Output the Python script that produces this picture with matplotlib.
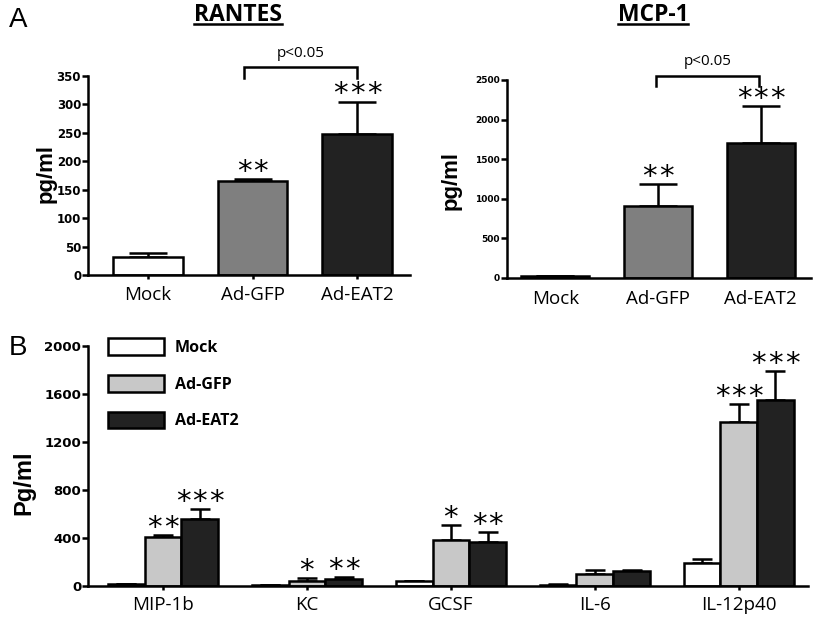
import matplotlib
matplotlib.use("Agg")
import matplotlib.pyplot as plt
import numpy as np
from matplotlib.lines import Line2D

# ---------------- data ----------------
groups_a = ["Mock", "Ad-GFP", "Ad-EAT2"]
rantes_vals = [31, 165, 248]
rantes_err = [8, 3, 57]
rantes_stars = ["", "**", "***"]

mcp1_vals = [25, 910, 1705]
mcp1_err = [5, 280, 465]
mcp1_stars = ["", "**", "***"]

cyto = ["MIP-1b", "KC", "GCSF", "IL-6", "IL-12p40"]
mock_vals = [15, 8, 40, 12, 190]
mock_err = [3, 2, 5, 5, 35]
gfp_vals = [410, 40, 385, 100, 1365]
gfp_err = [15, 25, 120, 30, 150]
eat2_vals = [555, 60, 370, 128, 1550]
eat2_err = [85, 15, 80, 8, 240]
gfp_stars = ["**", "*", "*", "", "***"]
eat2_stars = ["***", "**", "**", "", "***"]

rantes_ticks = [0, 50, 100, 150, 200, 250, 300, 350]
mcp1_ticks = [0, 500, 1000, 1500, 2000, 2500]
b_ticks = [0, 400, 800, 1200, 1600, 2000]

# ---------------- style ----------------
LW = 1.8
TICKFONT = "Open Sans"
colors_a = ["white", "#7f7f7f", "#222222"]
colors_b = ["white", "#c8c8c8", "#222222"]

fig = plt.figure(figsize=(8.16, 6.23), dpi=100)


def style_axes(ax, yticks, ytick_size, xlab_pad):
    for s in ["top", "right"]:
        ax.spines[s].set_visible(False)
    for s in ["left", "bottom"]:
        ax.spines[s].set_linewidth(LW)
    ax.set_yticks(yticks)
    ax.set_ylim(yticks[0], yticks[-1])
    ax.tick_params(axis="y", length=4, width=LW, pad=1)
    ax.tick_params(axis="x", length=3, width=LW, pad=xlab_pad)
    for lab in ax.get_yticklabels():
        lab.set_fontfamily("DejaVu Sans")
        lab.set_fontweight("bold")
        lab.set_fontsize(ytick_size)
    for lab in ax.get_xticklabels():
        lab.set_fontfamily(TICKFONT)
        lab.set_fontsize(13.5)


def star(ax, x, y, s, size=21, gap=12.0, lift=-5):
    n = len(s)
    for k in range(n):
        dx = (k - (n - 1) / 2) * gap
        ax.annotate("*", xy=(x, y), xytext=(dx, lift),
                    textcoords="offset points", ha="center", va="bottom",
                    fontsize=size, family="DejaVu Sans",
                    annotation_clip=False)


def panel_a(rect, vals, err, stars, ticks, ytick_size, xlim, width, xpad,
            ylabcoords, bracket, ptext_off):
    ax = fig.add_axes(rect)
    x = np.arange(len(groups_a))
    ax.bar(x, vals, width=width, color=colors_a, edgecolor="black",
           linewidth=LW, zorder=2)
    ax.errorbar(x, vals, yerr=[np.zeros(len(vals)), err], fmt="none",
                ecolor="black", elinewidth=LW, capsize=14, capthick=LW,
                zorder=1)
    ax.set_xticks(x)
    ax.set_xticklabels(groups_a)
    ax.set_xlim(*xlim)
    style_axes(ax, ticks, ytick_size, xpad)
    ax.set_ylabel("pg/ml", fontsize=16, fontweight="bold",
                  family="Liberation Sans")
    ax.yaxis.set_label_coords(*ylabcoords)
    for xi, v, e, s in zip(x, vals, err, stars):
        star(ax, xi, v + e, s)
    # significance bracket
    x0, x1, ylo, yhi = bracket
    ax.plot([x0, x0, x1, x1], [ylo, yhi, yhi, ylo], color="black", lw=LW,
            clip_on=False, solid_joinstyle="miter")
    ax.text((x0 + x1) / 2, yhi + ptext_off, "p<0.05", ha="center",
            va="bottom", fontsize=11, family=TICKFONT)
    return ax


ax1 = panel_a([0.108, 0.5586, 0.394, 0.3195], rantes_vals, rantes_err,
              rantes_stars, rantes_ticks, 8.5, (-0.57, 2.5), 0.667, 5,
              (-0.097, 0.51), (0.92, 2.0, 347, 366), 10)
ax2 = panel_a([0.6213, 0.5538, 0.3725, 0.3178], mcp1_vals, mcp1_err,
              mcp1_stars, mcp1_ticks, 6.5, (-0.47, 2.49), 0.66, 9,
              (-0.15, 0.49), (0.98, 1.98, 2420, 2550), 90)
ax2.tick_params(axis="x", length=0)

# ---------------- panel B ----------------
ax3 = fig.add_axes([0.108, 0.0594, 0.882, 0.3852])
xb = np.arange(len(cyto))
w = 0.255
series = [(mock_vals, mock_err, None), (gfp_vals, gfp_err, gfp_stars),
          (eat2_vals, eat2_err, eat2_stars)]
labels = ["Mock", "Ad-GFP", "Ad-EAT2"]
handles = []
for i, (vals, err, stars) in enumerate(series):
    pos = xb + (i - 1) * w
    h = ax3.bar(pos, vals, width=w, color=colors_b[i], edgecolor="black",
                linewidth=LW, zorder=2, label=labels[i])
    handles.append(h)
    ax3.errorbar(pos, vals, yerr=[np.zeros(len(vals)), err], fmt="none",
                 ecolor="black", elinewidth=LW, capsize=7, capthick=LW,
                 zorder=1)
    if stars:
        for p, v, e, s in zip(pos, vals, err, stars):
            star(ax3, p, v + e, s)
ax3.set_xticks(xb)
ax3.set_xticklabels(cyto)
ax3.set_xlim(-0.52, 4.48)
style_axes(ax3, b_ticks, 9.5, 4)
ax3.set_ylabel("Pg/ml", fontsize=17, fontweight="bold",
               family="Liberation Sans")
ax3.yaxis.set_label_coords(-0.073, 0.43)
leg = ax3.legend(handles=handles, loc="upper left",
                 bbox_to_anchor=(0.016, 1.065), frameon=False,
                 handlelength=3.5, handleheight=1.2, labelspacing=1.2,
                 handletextpad=0.7, borderpad=0,
                 prop={"family": TICKFONT, "weight": "bold", "size": 11.5})

# ---------------- titles / panel letters ----------------
fig.text(18 / 816, 1 - 20 / 623, "A", fontsize=20, family="Liberation Sans",
         ha="center", va="center")
fig.text(18 / 816, 1 - 348 / 623, "B", fontsize=20, family="Liberation Sans",
         ha="center", va="center")
t1 = fig.text(238 / 816, 1 - 15 / 623, "RANTES", fontsize=16.5,
              fontweight="bold", family=TICKFONT, ha="center", va="center")
t2 = fig.text(653 / 816, 1 - 15 / 623, "MCP-1", fontsize=16.5,
              fontweight="bold", family=TICKFONT, ha="center", va="center")

fig.canvas.draw()
r = fig.canvas.get_renderer()
W, H = fig.bbox.width, fig.bbox.height
for t in (t1, t2):
    bb = t.get_window_extent(r)
    yy = bb.y0 + 3
    fig.add_artist(Line2D([bb.x0 / W, bb.x1 / W], [yy / H, yy / H],
                          color="black", lw=1.8, transform=fig.transFigure))

fig.savefig("out.png", dpi=100)
